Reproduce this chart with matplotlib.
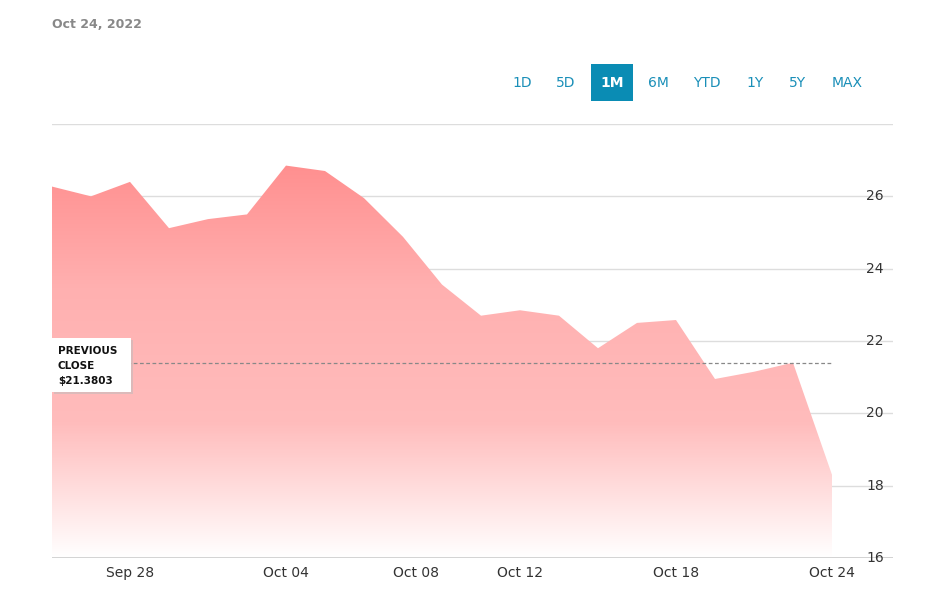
import numpy as np
import matplotlib.pyplot as plt
from matplotlib.patches import Polygon, FancyBboxPatch
from matplotlib.colors import LinearSegmentedColormap
import matplotlib.transforms as mtransforms

# valores de cierre (sesiones consecutivas)
precios = [26.27, 26.0, 26.4, 25.12, 25.37, 25.5, 26.85, 26.7, 25.95, 24.88,
           23.56, 22.7, 22.85, 22.7, 21.8, 22.5, 22.58, 20.95, 21.15, 21.4, 18.3]
etiquetas_x = ["Sep 28", "Oct 04", "Oct 08", "Oct 12", "Oct 18", "Oct 24"]
pos_etiquetas = [2, 6, 9.33, 12, 16, 20]
ticks_y = [16, 18, 20, 22, 24, 26]
cierre_previo = 21.3803
botones = ["1D", "5D", "1M", "6M", "YTD", "1Y", "5Y", "MAX"]

W, H = 943, 608
fig = plt.figure(figsize=(W / 100, H / 100), dpi=100)
ax = fig.add_axes([52 / W, 50 / H, (893 - 52) / W, (558 - 124) / H])
x = np.arange(len(precios))
ax.set_xlim(0, (893 - 52) / 39)
ax.set_ylim(16, 28)

# relleno degradado recortado por el área
grad = np.linspace(0, 1, 256).reshape(-1, 1)
cmap = LinearSegmentedColormap.from_list("g", ["#ffffff", "#ffbcbc", "#ffb0b0", "#ff8c8c"])
im = ax.imshow(grad, extent=[0, x[-1], 16, 27.2], origin="lower", aspect="auto",
               cmap=cmap, zorder=1)
vert = list(zip(x, precios)) + [(x[-1], 16), (0, 16)]
poly = Polygon(vert, closed=True, facecolor="none", edgecolor="none")
ax.add_patch(poly)
im.set_clip_path(poly)

for t in ticks_y + [28]:
    ax.axhline(t, color="#dddddd", lw=1, zorder=0)
ax.axhline(16, color="#cccccc", lw=1.2, zorder=3)

ax.plot([0, x[-1]], [cierre_previo] * 2, ls=(0, (3, 2)), color="#888888", lw=0.9, zorder=3)

for s in ax.spines.values():
    s.set_visible(False)
ax.set_yticks([])
ax.set_xticks(pos_etiquetas)
ax.set_xticklabels(etiquetas_x, fontsize=10, color="#333333")
ax.tick_params(axis="x", length=0, pad=6)

tr = mtransforms.blended_transform_factory(fig.transFigure, ax.transData)
for t in ticks_y:
    fig.text(875 / W, t, str(t), transform=tr, fontsize=10, color="#333333",
             ha="center", va="center")

# caja del cierre previo
fig.patches.append(FancyBboxPatch((54 / W, (H - 394) / H), 79 / W, 54 / H,
                                  boxstyle="square,pad=0", transform=fig.transFigure,
                                  facecolor="#bbbbbb", edgecolor="none", alpha=0.5, zorder=4))
fig.patches.append(FancyBboxPatch((52 / W, (H - 392) / H), 79 / W, 54 / H,
                                  boxstyle="square,pad=0", transform=fig.transFigure,
                                  facecolor="white", edgecolor="none", zorder=5))
for i, linea in enumerate(["PREVIOUS", "CLOSE", "$21.3803"]):
    fig.text(58 / W, (H - 351 - i * 15) / H, linea, fontsize=7.5, color="#111111",
             fontweight="semibold", va="center", zorder=6)

fig.text(52 / W, (H - 24) / H, "Oct 24, 2022", fontsize=9, color="#888888",
         fontweight="bold", va="center")

cx = [522, 566, 612, 658, 707, 755, 797, 847]
for b, c in zip(botones, cx):
    if b == "1M":
        fig.patches.append(FancyBboxPatch(((c - 21) / W, (H - 101) / H), 42 / W, 37 / H,
                                          boxstyle="square,pad=0", transform=fig.transFigure,
                                          facecolor="#0a8cb4", edgecolor="none"))
        fig.text(c / W, (H - 83) / H, b, fontsize=10, color="white", fontweight="bold",
                 ha="center", va="center")
    else:
        fig.text(c / W, (H - 83) / H, b, fontsize=10, color="#1a8fb8",
                 ha="center", va="center")

fig.savefig("out.png", dpi=100)
